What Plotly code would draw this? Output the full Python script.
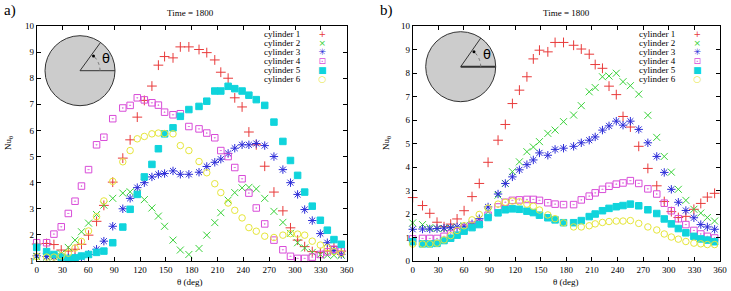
import math
import plotly.graph_objects as go

W, H = 731, 291

# ---------------- data ----------------
theta = [0, 11.5, 20, 28.5, 36.7, 44.5, 52, 60.2, 69.5, 78,
         88.3, 100, 108.5, 116.8, 125, 133.8, 141.3, 148.5, 158.3, 166.8,
         176.7, 188.5, 197.5, 206.8, 213.8, 222.3, 230, 238.5, 246.4, 255,
         264.8, 275.5, 285.9, 294.7, 303, 311.2, 320, 329.4, 337.5, 345.2,
         353.7]

names = ["cylinder 1", "cylinder 2", "cylinder 3", "cylinder 4", "cylinder 5", "cylinder 6"]

a_cyl1 = [1.65, 1.67, 1.63, 1.42, 1.38, 1.45, 1.64, 1.99, 2.52, 3.13,
          4.02, 4.94, 5.64, 6.51, 7.15, 7.7, 8.5, 8.83, 8.78, 9.2,
          9.2, 9.1, 8.98, 8.7, 8.23, 8.0, 7.25, 6.9, 5.94, 5.45,
          4.63, 3.64, 2.92, 2.27, 1.8, 1.55, 1.36, 1.32, 1.38, 1.55, 1.38]
a_cyl2 = [1.17, 1.15, 1.17, 1.28, 1.52, 1.8, 2.12, 2.45, 2.78, 3.14,
          3.4, 3.6, 3.65, 3.6, 3.35, 3.03, 2.72, 2.33, 1.8, 1.42,
          1.25, 1.48, 1.99, 2.47, 2.85, 3.33, 3.62, 3.8, 3.82, 3.76,
          3.4, 2.9, 2.48, 2.06, 1.7, 1.5, 1.33, 1.25, 1.22, 1.22, 1.22]
a_cyl3 = [1.2, 1.17, 1.15, 1.15, 1.12, 1.12, 1.15, 1.25, 1.45, 1.76,
          2.33, 3.0, 3.4, 3.81, 4.0, 4.22, 4.32, 4.35, 4.45, 4.32,
          4.32, 4.4, 4.62, 4.78, 4.9, 5.12, 5.32, 5.45, 5.45, 5.5,
          5.42, 5.0, 4.5, 4.0, 3.55, 2.97, 2.55, 2.05, 1.7, 1.4, 1.25]
a_cyl4 = [1.7, 1.7, 2.03, 2.31, 2.82, 3.29, 3.87, 4.5, 5.45, 5.74,
          6.45, 6.86, 6.96, 7.25, 7.17, 7.06, 6.97, 6.7, 6.6, 6.64,
          6.15, 6.06, 5.9, 5.72, 5.23, 5.0, 4.58, 4.15, 3.6, 3.03,
          2.42, 1.8, 1.43, 1.18, 1.1, 1.1, 1.15, 1.25, 1.35, 1.45, 1.38]
a_cyl5 = [1.52, 1.36, 1.25, 1.15, 1.1, 1.12, 1.19, 1.25, 1.33, 1.38,
          1.7, 2.3, 2.98, 3.55, 4.22, 4.7, 5.3, 5.87, 6.1, 6.54,
          6.8, 6.92, 7.12, 7.51, 7.51, 7.69, 7.6, 7.51, 7.35, 7.18,
          6.96, 6.32, 5.58, 4.85, 4.28, 3.64, 3.1, 2.56, 2.18, 1.82, 1.64]
a_cyl6 = [1.17, 1.15, 1.15, 1.2, 1.3, 1.5, 1.75, 2.15, 2.7, 3.3,
          4.05, 4.8, 5.23, 5.68, 5.77, 5.87, 5.9, 5.88, 5.87, 5.42,
          5.23, 4.81, 4.38, 3.96, 3.62, 3.22, 2.94, 2.65, 2.28, 2.14,
          1.95, 1.9, 1.99, 2.05, 2.03, 1.99, 1.76, 1.61, 1.51, 1.36, 1.29]

b_cyl1 = [2.7, 2.36, 2.03, 1.65, 1.46, 1.57, 1.79, 2.14, 2.74, 3.3,
          4.2, 5.14, 5.81, 6.7, 7.27, 7.84, 8.6, 8.97, 8.9, 9.3,
          9.3, 9.18, 9.02, 8.8, 8.36, 8.2, 7.44, 7.08, 6.15, 5.7,
          4.88, 3.94, 3.2, 2.53, 2.1, 1.85, 1.9, 2.2, 2.45, 2.72, 2.88]
b_cyl2 = [1.62, 1.55, 1.42, 1.38, 1.38, 1.4, 1.45, 1.5, 1.55, 1.62,
          2.1, 2.8, 3.3, 3.8, 4.22, 4.65, 4.85, 5.08, 5.43, 5.57,
          5.93, 6.21, 6.61, 7.2, 7.38, 7.84, 7.87, 7.99, 7.63, 7.46,
          7.1, 6.2, 5.26, 4.45, 3.78, 3.05, 2.58, 2.2, 2.04, 1.85, 1.7]
b_cyl3 = [1.35, 1.36, 1.36, 1.38, 1.4, 1.42, 1.45, 1.48, 1.58, 1.8,
          2.3, 2.85, 3.3, 3.58, 3.88, 4.1, 4.3, 4.6, 4.5, 4.75,
          4.8, 4.88, 5.03, 5.14, 5.28, 5.57, 5.75, 5.95, 5.78, 5.95,
          5.6, 5.03, 4.45, 3.77, 3.05, 2.5, 2.15, 1.84, 1.55, 1.45, 1.35]
b_cyl4 = [0.94, 0.96, 0.96, 0.96, 1.05, 1.15, 1.25, 1.4, 1.52, 1.6,
          1.95, 2.3, 2.5, 2.58, 2.6, 2.62, 2.62, 2.58, 2.48, 2.42,
          2.4, 2.4, 2.6, 2.76, 2.9, 3.05, 3.18, 3.27, 3.32, 3.42,
          3.3, 3.07, 2.85, 2.46, 2.14, 1.8, 1.55, 1.3, 1.15, 1.05, 0.98]
b_cyl5 = [0.82, 0.73, 0.73, 0.75, 0.87, 0.97, 1.1, 1.27, 1.42, 1.55,
          1.85, 2.05, 2.18, 2.22, 2.2, 2.12, 2.06, 1.95, 1.84, 1.75,
          1.63, 1.63, 1.72, 1.89, 2.0, 2.14, 2.24, 2.31, 2.36, 2.42,
          2.35, 2.18, 2.02, 1.79, 1.58, 1.38, 1.2, 1.05, 0.94, 0.89, 0.82]
b_cyl6 = [0.72, 0.72, 0.73, 0.76, 0.9, 1.08, 1.3, 1.5, 1.75, 1.98,
          2.25, 2.42, 2.5, 2.55, 2.52, 2.42, 2.33, 2.17, 1.96, 1.8,
          1.62, 1.45, 1.45, 1.5, 1.58, 1.64, 1.68, 1.7, 1.7, 1.72,
          1.6, 1.45, 1.32, 1.15, 1.02, 0.93, 0.83, 0.76, 0.73, 0.7, 0.7]

x_ticks = [0, 30, 60, 90, 120, 150, 180, 210, 240, 270, 300, 330, 360]
ya_ticks = [1, 2, 3, 4, 5, 6, 7, 8, 9, 10]
yb_ticks = [0, 1, 2, 3, 4, 5, 6, 7, 8, 9, 10]

panel_a = [a_cyl1, a_cyl2, a_cyl3, a_cyl4, a_cyl5, a_cyl6]
panel_b = [b_cyl1, b_cyl2, b_cyl3, b_cyl4, b_cyl5, b_cyl6]

# ---------------- styles ----------------
symbols = ["cross-thin-open", "x-thin-open", "asterisk-open",
           "square-open-dot", "square", "circle-open"]
colors = ["#e83a3a", "#3ad23a", "#2c2cd8", "#d84cd8", "#10d4dc", "#e6e63a"]
sizes = [7, 7, 7, 6.5, 6.5, 6.5]
key_glyphs = ["+", "×", "✳", "⊡", "■", "○"]
SERIF = "Liberation Serif"


def px(x):
    return x / W


def py(y):
    return 1 - y / H


fig = go.Figure()
for xa, ya, series in (("x", "y", panel_a), ("x2", "y2", panel_b)):
    for i, vals in enumerate(series):
        fig.add_trace(go.Scatter(
            x=theta, y=vals, mode="markers", name=names[i],
            xaxis=xa, yaxis=ya, showlegend=False, cliponaxis=False,
            marker=dict(symbol=symbols[i], size=sizes[i], color=colors[i],
                        line=dict(color=colors[i], width=1)),
        ))

axis_common = dict(
    showline=True, linecolor="black", linewidth=1, mirror="ticks",
    ticks="inside", ticklen=4, tickcolor="black", tickwidth=1,
    showgrid=False, zeroline=False, automargin=False,
    tickfont=dict(family=SERIF, size=9, color="black"),
)

ydom = [py(261), py(26)]
fig.update_layout(
    template="none",
    width=W, height=H, autosize=False,
    margin=dict(l=0, r=0, t=0, b=0, pad=0),
    paper_bgcolor="white", plot_bgcolor="white",
    font=dict(family=SERIF, size=9, color="black"),
    showlegend=False,
    xaxis=dict(domain=[px(36.7), px(346.7)], range=[0, 360], tickvals=x_ticks,
               anchor="y", **axis_common),
    yaxis=dict(domain=ydom, range=[1, 10], tickvals=ya_ticks, anchor="x", **axis_common),
    xaxis2=dict(domain=[px(412.7), px(720)], range=[0, 360], tickvals=x_ticks,
                anchor="y2", **axis_common),
    yaxis2=dict(domain=ydom, range=[0, 10], tickvals=yb_ticks, anchor="x2", **axis_common),
)

ann = []


def text(x, y, s, size=9, xanchor="center", color="black", family=SERIF, angle=0, align="center"):
    ann.append(dict(x=px(x), y=py(y), xref="paper", yref="paper", text=s,
                    showarrow=False, xanchor=xanchor, yanchor="middle",
                    textangle=angle, align=align, borderpad=0,
                    font=dict(family=family, size=size, color=color)))


# panel labels / titles / axis titles
text(10, 11, "a)", size=15)
text(386, 11, "b)", size=15)
text(190, 13, "Time = 1800", size=9)
text(566, 13, "Time = 1800", size=9)
text(190, 282, "θ (deg)", size=9)
text(566, 282, "θ (deg)", size=9)
text(8, 143, "Nu<sub>θ</sub>", size=9, angle=-90)
text(386, 143, "Nu<sub>θ</sub>", size=9, angle=-90)

# legends (gnuplot style: text right-aligned, key to the right)
legend_text = "<br>".join(f"<span style='font-size:9px'>{n}</span>" for n in names)
legend_keys = "<br>".join(
    f"<span style='font-size:9px;color:{c}'>{g}</span>" for g, c in zip(key_glyphs, colors))
for txt_right, key_x in ((302, 322), (677, 697)):
    text(txt_right, 57, legend_text, size=6.9, xanchor="right", align="right")
    text(key_x, 57, legend_keys, size=6.9, family="DejaVu Sans")

# inset sketches of a cylinder with angle theta
shapes = []
for cx, cy, ang, lw in ((80, 70.7, 54, 1), (460.7, 66.7, 55, 2)):
    r = 35
    shapes.append(dict(type="circle", xref="paper", yref="paper",
                       x0=px(cx - r), x1=px(cx + r), y0=py(cy + r), y1=py(cy - r),
                       fillcolor="#cccccc", line=dict(color="#333333", width=1), layer="above"))
    shapes.append(dict(type="line", xref="paper", yref="paper",
                       x0=px(cx), y0=py(cy), x1=px(cx + r), y1=py(cy),
                       line=dict(color="#333333", width=lw), layer="above"))
    ex = cx + r * math.cos(math.radians(ang))
    ey = cy - r * math.sin(math.radians(ang))
    shapes.append(dict(type="line", xref="paper", yref="paper",
                       x0=px(cx), y0=py(cy), x1=px(ex), y1=py(ey),
                       line=dict(color="#333333", width=1), layer="above"))
    ar = 20
    pts = []
    for k in range(11):
        a = math.radians(ang * 0.92 * k / 10)
        pts.append((px(cx + ar * math.cos(a)), py(cy - ar * math.sin(a))))
    path = "M " + " L ".join(f"{x:.5f},{y:.5f}" for x, y in pts)
    shapes.append(dict(type="path", xref="paper", yref="paper", path=path,
                       line=dict(color="#777777", width=1, dash="dot"), layer="above"))
    da = math.radians(ang * 0.88)
    dx, dy = cx + ar * math.cos(da), cy - ar * math.sin(da)
    shapes.append(dict(type="circle", xref="paper", yref="paper",
                       x0=px(dx - 1.5), x1=px(dx + 1.5), y0=py(dy + 1.5), y1=py(dy - 1.5),
                       fillcolor="black", line=dict(color="black", width=0), layer="above"))
    text(cx + 26, cy - 12, "θ", size=13, family="DejaVu Sans")

fig.update_layout(shapes=shapes, annotations=ann)

fig.write_html("out.html",
               config={"displayModeBar": False, "staticPlot": True},
               post_script="document.body.style.margin='0px';document.body.style.overflow='hidden';")
